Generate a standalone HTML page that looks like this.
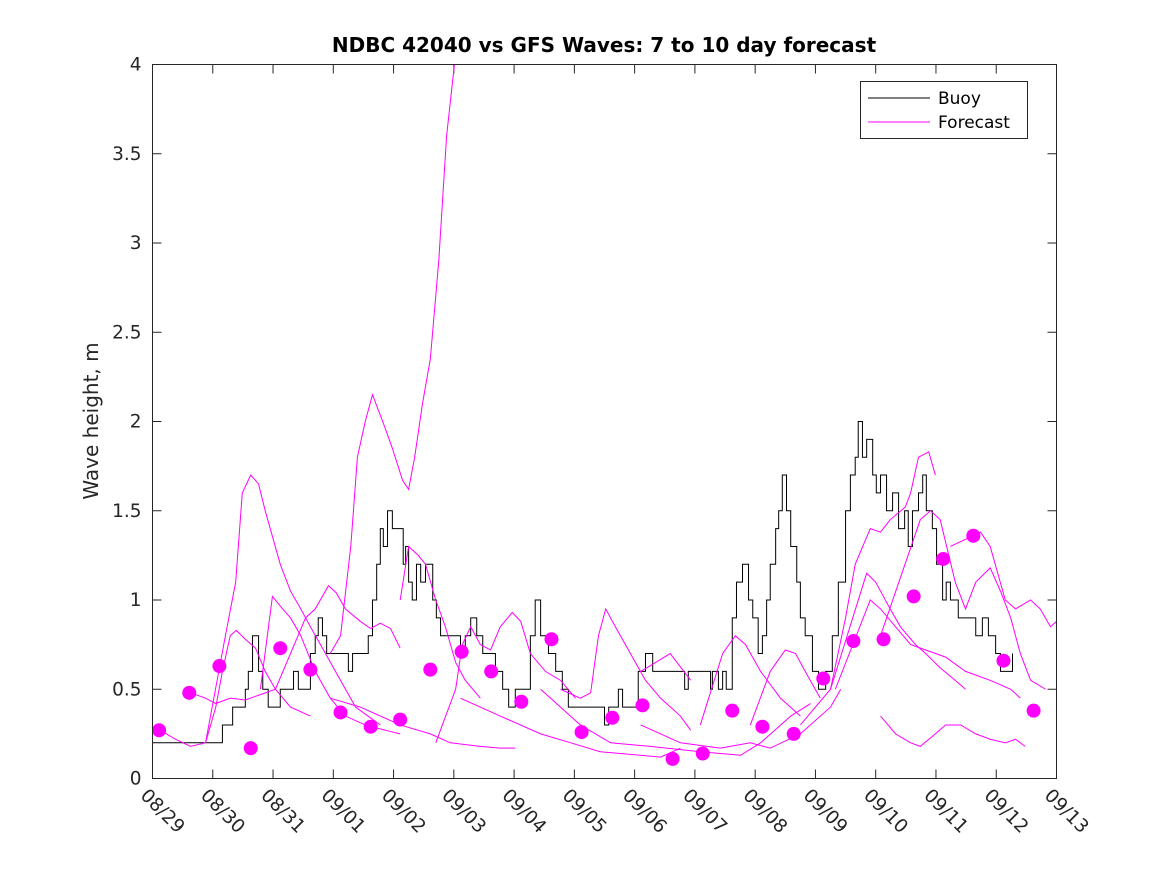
<!DOCTYPE html>
<html><head><meta charset="utf-8"><style>
body{margin:0;background:#fff;}
svg{display:block;font-family:"DejaVu Sans","Liberation Sans",sans-serif;}
</style></head><body>
<svg id="chart" width="1167" height="875">
<rect width="1167" height="875" fill="#fff"/>
<text x="604" y="52" text-anchor="middle" font-weight="bold" font-size="20" fill="#000">NDBC 42040 vs GFS Waves: 7 to 10 day forecast</text>
<text transform="translate(98,421) rotate(-90)" text-anchor="middle" font-size="20" fill="#262626">Wave height, m</text>
<g id="plot"></g>
<rect x="152.5" y="64.5" width="904" height="714" fill="none" stroke="#262626" stroke-width="1"/>
<g>
<rect x="860.5" y="81.5" width="167" height="57" fill="#fff" stroke="#262626"/>
<line x1="868" y1="98" x2="930" y2="98" stroke="#000"/>
<text x="938" y="104" font-size="17" fill="#000">Buoy</text>
<line x1="868" y1="122" x2="930" y2="122" stroke="#f0f"/>
<text x="938" y="128" font-size="17" fill="#000">Forecast</text>
</g>
</svg>
<script>
const xTickLabels=["08/29","08/30","08/31","09/01","09/02","09/03","09/04","09/05","09/06","09/07","09/08","09/09","09/10","09/11","09/12","09/13"];
const yTicks=[0,0.5,1,1.5,2,2.5,3,3.5,4];
const buoyT=[0,0.55,1.16,1.33,1.54,1.59,1.66,1.76,1.83,1.92,2.09,2.12,2.29,2.34,2.42,2.54,2.62,2.70,2.75,2.82,2.89,3.20,3.25,3.32,3.53,3.58,3.65,3.72,3.78,3.83,3.90,3.98,4.11,4.16,4.20,4.25,4.31,4.38,4.45,4.53,4.65,4.71,4.78,5.03,5.11,5.19,5.28,5.38,5.48,5.61,5.69,5.81,5.91,6.02,6.19,6.27,6.35,6.44,6.57,6.69,6.80,6.90,7.43,7.50,7.57,7.68,7.73,7.80,7.93,8.06,8.18,8.30,8.76,8.83,8.89,9.18,9.26,9.29,9.39,9.46,9.52,9.62,9.69,9.79,9.89,9.96,10.05,10.12,10.19,10.25,10.34,10.39,10.45,10.52,10.59,10.69,10.75,10.83,10.95,11.05,11.17,11.28,11.38,11.50,11.58,11.66,11.71,11.78,11.85,11.95,12.01,12.08,12.18,12.28,12.38,12.48,12.54,12.61,12.71,12.78,12.84,12.94,13.01,13.11,13.17,13.24,13.37,13.57,13.66,13.77,13.87,13.99,14.07,14.27];
const buoyV=[0.2,0.2,0.3,0.4,0.5,0.6,0.8,0.6,0.5,0.4,0.4,0.5,0.5,0.6,0.5,0.5,0.7,0.8,0.9,0.8,0.7,0.7,0.6,0.7,0.7,0.8,1.0,1.2,1.4,1.3,1.5,1.4,1.4,1.2,1.3,1.1,1.0,1.2,1.1,1.2,1.0,0.9,0.8,0.8,0.7,0.8,0.9,0.8,0.7,0.7,0.6,0.5,0.4,0.5,0.5,0.8,1.0,0.8,0.7,0.6,0.5,0.4,0.4,0.3,0.4,0.4,0.5,0.4,0.4,0.6,0.7,0.6,0.6,0.5,0.6,0.6,0.5,0.6,0.5,0.6,0.5,0.9,1.1,1.2,1.0,0.9,0.7,0.8,1.0,1.2,1.4,1.5,1.7,1.5,1.3,1.1,0.9,0.8,0.6,0.5,0.6,0.8,1.1,1.5,1.7,1.8,2.0,1.8,1.9,1.7,1.6,1.7,1.5,1.6,1.4,1.5,1.3,1.5,1.6,1.7,1.5,1.4,1.2,1.0,1.1,1.0,0.9,0.9,0.8,0.9,0.8,0.7,0.6,0.7,0.7];
const dotT=[0.11,0.61,1.11,1.63,2.12,2.62,3.12,3.62,4.11,4.61,5.13,5.62,6.12,6.62,7.12,7.63,8.13,8.63,9.13,9.62,10.12,10.64,11.13,11.63,12.13,12.63,13.12,13.62,14.12,14.62];
const dotV=[0.27,0.48,0.63,0.17,0.73,0.61,0.37,0.29,0.33,0.61,0.71,0.60,0.43,0.78,0.26,0.34,0.41,0.11,0.14,0.38,0.29,0.25,0.56,0.77,0.78,1.02,1.23,1.36,0.66,0.38];
const fcT=[
[0.88,1.21,1.38,1.49,1.63,1.76,1.87,2.12,2.29,2.46,2.62,2.87,3.12,3.37,3.78],
[2.95,3.12,3.29,3.40,3.53,3.65,3.82,3.98,4.15,4.25,4.35,4.48,4.61,4.75,4.88,5.01],
[0.13,0.38,0.63,0.88,1.05,1.16,1.29,1.39,1.54,1.71,1.87,2.04,2.29,2.62],
[0.63,0.88,1.05,1.29,1.54,1.79,2.04,2.29,2.54,2.70,2.92,3.05,3.20,3.45,3.62,3.78,3.95,4.11],
[1.79,1.99,2.16,2.29,2.46,2.70,2.95,3.20,3.53,3.87,4.11],
[4.11,4.25,4.41,4.53,4.70,4.86,5.03,5.19,5.44],
[4.70,5.03,5.14,5.28,5.44,5.61,5.77,5.97,6.11,6.27,6.52,6.77,7.02],
[6.77,7.10,7.27,7.40,7.52,7.68,7.93,8.18,8.43,8.76,8.93],
[8.10,8.35,8.59,8.93],
[9.09,9.46,9.67,9.84,10.09,10.42,10.75],
[9.92,10.25,10.50,10.67,10.83,11.08],
[10.75,11.25,11.50,11.66,11.91,12.08,12.24,12.49,12.58,12.71,12.88,12.99],
[11.25,11.85,12.00,12.24,12.41,12.66,12.83,13.07,13.32,13.49],
[11.33,11.91,12.08,12.33,12.58,12.83,13.16,13.49,13.90,14.24,14.40],
[12.08,12.74,12.91,13.07,13.32,13.49,13.66,13.90,14.07,14.24,14.40,14.57,14.82],
[13.24,13.74,13.90,14.15,14.32,14.57,14.73,14.90,15.0],
[12.08,12.33,12.58,12.74,12.99,13.16,13.41,13.66,13.90,14.15,14.32,14.48],
[5.11,5.77,6.44,6.94,7.43,8.10,8.43,8.76],
[6.44,6.77,7.10,7.60,8.26,9.09,9.76,10.09,10.59,10.92],
[8.10,8.76,9.42,9.92,10.25,10.75,11.25,11.42],
[2.95,3.45,4.11,4.61,4.94,5.44,5.77,6.02]
];
const fcV=[
[0.2,0.8,1.1,1.6,1.7,1.65,1.5,1.2,1.05,0.95,0.85,0.7,0.55,0.4,0.3],
[0.7,0.8,1.3,1.8,2.0,2.15,2.0,1.85,1.67,1.62,1.8,2.1,2.35,2.9,3.6,4.0],
[0.27,0.22,0.18,0.2,0.4,0.6,0.8,0.83,0.78,0.73,0.6,0.5,0.4,0.35],
[0.48,0.45,0.42,0.45,0.44,0.47,0.5,0.7,0.9,0.95,1.08,1.04,0.95,0.88,0.84,0.87,0.84,0.73],
[0.5,1.02,0.95,0.9,0.8,0.6,0.45,0.35,0.3,0.27,0.25],
[1.0,1.3,1.25,1.2,1.0,0.85,0.65,0.55,0.45],
[0.2,0.5,0.75,0.85,0.75,0.72,0.85,0.93,0.88,0.7,0.6,0.55,0.45],
[0.5,0.45,0.48,0.8,0.95,0.85,0.7,0.55,0.45,0.35,0.27],
[0.6,0.65,0.7,0.55],
[0.3,0.7,0.8,0.75,0.6,0.45,0.35],
[0.3,0.6,0.72,0.7,0.6,0.45],
[0.3,0.5,0.9,1.2,1.4,1.38,1.45,1.52,1.6,1.8,1.83,1.7],
[0.5,1.15,1.1,0.95,0.85,0.75,0.7,0.62,0.55,0.5],
[0.5,1.0,0.95,0.85,0.75,0.72,0.68,0.6,0.55,0.5,0.45],
[0.8,1.45,1.5,1.45,1.1,0.95,1.1,1.18,1.05,0.9,0.7,0.55,0.5],
[1.3,1.38,1.3,1.0,0.95,1.0,0.95,0.85,0.88],
[0.35,0.25,0.2,0.18,0.25,0.3,0.3,0.25,0.22,0.2,0.22,0.18],
[0.45,0.35,0.25,0.2,0.15,0.13,0.12,0.17],
[0.5,0.4,0.3,0.2,0.18,0.15,0.13,0.2,0.35,0.42],
[0.3,0.2,0.17,0.2,0.17,0.25,0.4,0.5],
[0.45,0.4,0.3,0.25,0.2,0.18,0.17,0.17]
];
const X0=152.5,X1=1056.5,Y0=778.5,Y1=64.5;
function xs(d){return X0+(X1-X0)*d/15;}
function ys(v){return Y0-(Y0-Y1)*v/4;}
const NS="http://www.w3.org/2000/svg";
const g=document.getElementById('plot');
function mk(tag,attrs,parent){const e=document.createElementNS(NS,tag);for(const k in attrs)e.setAttribute(k,attrs[k]);(parent||g).appendChild(e);return e;}
const clip=mk('clipPath',{id:'pc'});mk('rect',{x:X0,y:Y1,width:X1-X0,height:Y0-Y1},clip);
xTickLabels.forEach((lab,i)=>{
  const x=xs(i);
  const t1=mk('line',{x1:x,y1:Y0,x2:x,y2:Y0-9,stroke:'#262626'});
  
  
  mk('line',{x1:x,y1:Y1,x2:x,y2:Y1+9,stroke:'#262626'});
  const t=mk('text',{x:0,y:0,'font-size':'18.5',fill:'#262626',transform:`translate(${x-13},${Y0+18}) rotate(45)`});
  t.textContent=lab;
  
  
});
yTicks.forEach(v=>{
  const y=ys(v);
  const t1=mk('line',{x1:X0,y1:y,x2:X0+9,y2:y,stroke:'#262626'});
  
  
  mk('line',{x1:X1,y1:y,x2:X1-9,y2:y,stroke:'#262626'});
  const t=mk('text',{x:X0-11,y:y+6,'text-anchor':'end','font-size':'18.5',fill:'#262626'});
  t.textContent=String(v);
  
  
});
let d='';
buoyT.forEach((t,i)=>{
  if(i===0)d+=`M${xs(t)},${ys(buoyV[i])}`;
  else d+=`L${xs(t)},${ys(buoyV[i-1])}L${xs(t)},${ys(buoyV[i])}`;
});
const bl=mk('path',{d:d,fill:'none',stroke:'#000','stroke-width':'1','clip-path':'url(#pc)'});


fcT.forEach((ts,k)=>{
  const pts=ts.map((t,i)=>`${xs(t)},${ys(fcV[k][i])}`).join(' ');
  const p=mk('polyline',{points:pts,fill:'none',stroke:'#f0f','stroke-width':'1','clip-path':'url(#pc)'});
  
  
});
dotT.forEach((t,i)=>{
  const c=mk('circle',{cx:xs(t),cy:ys(dotV[i]),r:7,fill:'#f0f'});
  
  
});
</script>
</body></html>
